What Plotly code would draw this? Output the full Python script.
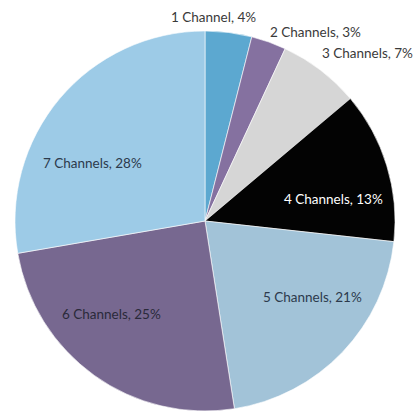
import plotly.graph_objects as go

# Share of respondents by number of channels used
categories = ["1 Channel", "2 Channels", "3 Channels", "4 Channels",
              "5 Channels", "6 Channels", "7 Channels"]
shares = [4, 3, 7, 13, 21, 25, 28]
colors = ["#5CA8D0", "#8571A0", "#D6D6D6", "#030303",
          "#A2C3D8", "#776890", "#9DCBE7"]

# label anchor points (pixel centres) and text colours
label_px = [(213, 17), (315, 32), (367, 53), (333, 199),
            (312, 297), (111, 314), (92, 163)]
label_colors = ["#3a3a3a", "#3a3a3a", "#3a3a3a", "#ffffff",
                "#2c3a4c", "#2a2a3a", "#2c3a4c"]

W, H = 417, 412
cx, cy, r = 205, 221, 190

fig = go.Figure(go.Pie(
    labels=categories,
    values=shares,
    sort=False,
    direction="clockwise",
    rotation=0,
    marker=dict(colors=colors, line=dict(color="#ffffff", width=0.6)),
    textinfo="none",
    hoverinfo="label+percent",
    showlegend=False,
    domain=dict(x=[(cx - r) / W, (cx + r) / W],
                y=[1 - (cy + r) / H, 1 - (cy - r) / H]),
))

for cat, val, (px, py), col in zip(categories, shares, label_px, label_colors):
    fig.add_annotation(
        x=px / W, y=1 - py / H, xref="paper", yref="paper",
        text=f"{cat}, {val}%", showarrow=False,
        font=dict(family="Lato, Open Sans, sans-serif", size=13.5, color=col),
        xanchor="center", yanchor="middle",
    )

fig.update_layout(
    width=W, height=H,
    margin=dict(l=0, r=0, t=0, b=0),
    paper_bgcolor="#ffffff",
    plot_bgcolor="#ffffff",
)

fig.write_html("out.html")
